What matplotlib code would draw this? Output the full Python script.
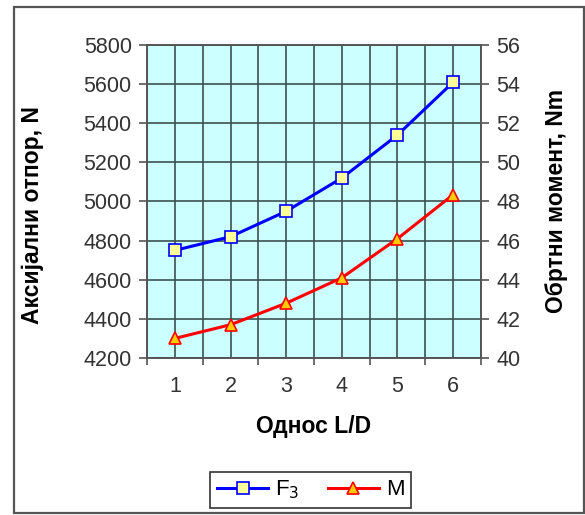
import matplotlib.pyplot as plt
from matplotlib.patches import Rectangle

plt.rcParams['font.family'] = ['Liberation Sans', 'DejaVu Sans']

# Однос L/D
ld = [1, 2, 3, 4, 5, 6]
# Аксијални отпор F3, N
f3 = [4750, 4820, 4950, 5120, 5340, 5610]
# Обртни момент M, Nm
moment = [41.0, 41.7, 42.8, 44.1, 46.1, 48.35]

left_ticks = [4200, 4400, 4600, 4800, 5000, 5200, 5400, 5600, 5800]
right_ticks = [40, 42, 44, 46, 48, 50, 52, 54, 56]

fig = plt.figure(figsize=(5.85, 5.15), dpi=100)
ax = fig.add_axes([0.2513, 0.3049, 0.5709, 0.6077])
ax2 = ax.twinx()

ax.set_facecolor('#ccffff')
ax.set_xlim(0.5, 6.5)
ax.set_ylim(4200, 5800)
ax2.set_ylim(40, 56)

# граничне подјеле између категорија, ознаке у средини
ax.set_xticks([0.5, 1.5, 2.5, 3.5, 4.5, 5.5, 6.5])
ax.set_xticklabels([])
ax.set_xticks(ld, minor=True)
ax.set_xticklabels([str(v) for v in ld], minor=True)
ax.tick_params(axis='x', which='minor', length=0, pad=13, labelsize=15.5, colors='#333333')
ax.tick_params(axis='x', which='major', length=5, color='#555555', width=1.2)

ax.set_yticks(left_ticks)
ax.tick_params(axis='y', length=6, width=1.2, color='#555555', labelsize=15.5, labelcolor='#333333', pad=5)
ax2.set_yticks(right_ticks)
ax2.tick_params(axis='y', length=6, width=1.2, color='#555555', labelsize=15.5, labelcolor='#333333', pad=5)

ax.grid(True, which='both', axis='x', color='#3d5050', linewidth=1.2)
ax.grid(True, which='major', axis='y', color='#3d5050', linewidth=1.2)
ax.set_axisbelow(True)

for a in (ax, ax2):
    for s in a.spines.values():
        s.set_color('#555555')
        s.set_linewidth(1.2)

l1, = ax.plot(ld, f3, color='#0000ff', linewidth=2.2, marker='s', markersize=8,
              markerfacecolor='#ffff99', markeredgecolor='#0000ff', markeredgewidth=1.2,
              label='F$_3$', zorder=3)
l2, = ax2.plot(ld, moment, color='#ff0000', linewidth=2.2, marker='^', markersize=9,
               markerfacecolor='#ffcc00', markeredgecolor='#ff0000', markeredgewidth=1.2,
               label='M', zorder=3)

ax.set_ylabel('Аксијални отпор, N', fontsize=16.5, fontweight='bold')
ax.yaxis.set_label_coords(-0.308, 0.457)
ax2.set_ylabel('Обртни момент, Nm', fontsize=16.5, fontweight='bold')
ax2.yaxis.set_label_coords(1.192, 0.5)
ax.set_xlabel('Однос L/D', fontsize=16.5, fontweight='bold')
ax.xaxis.set_label_coords(0.5, -0.182)

leg = fig.legend(handles=[l1, l2], loc='center', ncol=2,
                 bbox_to_anchor=(0.531, 0.049), fontsize=16,
                 frameon=True, fancybox=False, edgecolor='black',
                 handlelength=2.3, columnspacing=1.3, borderpad=0.3,
                 handletextpad=0.3)
leg.get_frame().set_linewidth(1.2)

# рамка око цијелог дијаграма
fig.patches.append(Rectangle((0.0239, 0.0039), 0.974, 0.9825, transform=fig.transFigure,
                             fill=False, edgecolor='#555555', linewidth=1.6))

fig.savefig('out.png', dpi=100)
